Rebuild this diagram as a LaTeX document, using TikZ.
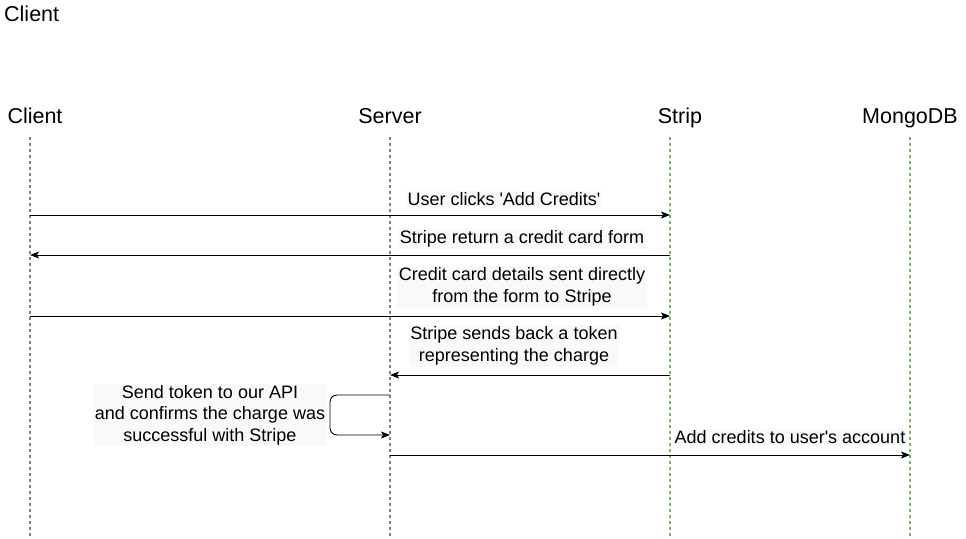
\documentclass[tikz,border=0pt]{standalone}
\usepackage{fontspec}
\setmainfont{Liberation Sans}
\usetikzlibrary{arrows.meta}
\definecolor{lifegrey}{HTML}{808080}
\definecolor{lifegreen}{HTML}{82B366}
\definecolor{lblbg}{HTML}{F8F9FA}
\begin{document}
\begin{tikzpicture}[x=1pt,y=-1pt,
    head/.style={inner sep=0pt, anchor=base, font=\fontsize{21.5}{25}\selectfont},
    lifeline/.style={line width=2.6pt, dash pattern=on 2.6pt off 3.4pt},
    msg/.style={line width=0.9pt, -{Stealth[length=9pt,width=7pt,inset=2pt]}},
    lbl/.style={fill=lblbg, inner sep=1.5pt, align=center, font=\fontsize{18}{21.5}\selectfont}]
            \useasboundingbox (0,0) rectangle (966,538);

            % Title
            \node[head, anchor=base west] (title) at (4,21) {Client};

            % Participants
            \node[head] (client) at (35,123) {Client};
            \node[head] (server) at (390,123) {Server};
            \node[head] (strip) at (680,123) {Strip};
            \node[head] (mongo) at (910,123) {MongoDB};

            % Lifelines
            \coordinate (clientTop) at (30,137);
            \coordinate (clientBot) at (30,538);
            \coordinate (serverTop) at (390,137);
            \coordinate (serverBot) at (390,538);
            \coordinate (stripTop) at (670,137);
            \coordinate (stripBot) at (670,538);
            \coordinate (mongoTop) at (910,137);
            \coordinate (mongoBot) at (910,538);
            \draw[lifeline, lifegrey] (clientTop) -- (clientBot);
            \draw[lifeline, lifegrey] (serverTop) -- (serverBot);
            \draw[lifeline, lifegreen] (stripTop) -- (stripBot);
            \draw[lifeline, lifegreen] (mongoTop) -- (mongoBot);

            % Message end points
            \coordinate (m1a) at (30,215);
            \coordinate (m1b) at (670,215);
            \coordinate (m2a) at (670,255);
            \coordinate (m2b) at (30,255);
            \coordinate (m3a) at (30,316);
            \coordinate (m3b) at (670,316);
            \coordinate (m4a) at (670,375);
            \coordinate (m4b) at (390,375);
            \coordinate (m5a) at (390,395);
            \coordinate (m5b) at (390,435);
            \coordinate (m6a) at (390,455);
            \coordinate (m6b) at (910,455);

            % Messages
            \draw[msg] (m1a) -- (m1b);
            \draw[msg] (m2a) -- (m2b);
            \draw[msg] (m3a) -- (m3b);
            \draw[msg] (m4a) -- (m4b);
            \draw[msg, rounded corners=7pt] (m5a) -| (330,415) |- (m5b);
            \draw[msg] (m6a) -- (m6b);

            % Labels
            \node[lbl] (l1) at (504,199) {User clicks \textquotesingle Add Credits\textquotesingle};
            \node[lbl] (l2) at (522,239) {Stripe return a credit card form};
            \node[lbl] (l3) at (522,287) {Credit card details sent directly\\ from the form to Stripe};
            \node[lbl] (l4) at (514,346) {Stripe sends back a token\\ representing the charge};
            \node[lbl] (l5) at (210,415) {Send token to our API\\ and confirms the charge was\\ successful with Stripe};
            \node[lbl] (l6) at (790,437) {Add credits to user\textquotesingle s account};
        \end{tikzpicture}
\end{document}
